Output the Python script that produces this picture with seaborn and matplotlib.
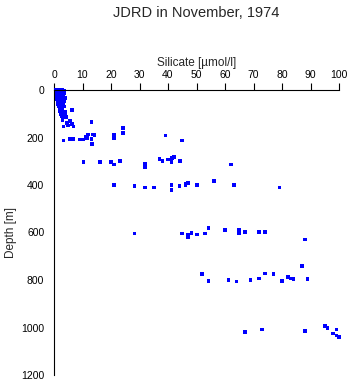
import matplotlib
matplotlib.use("Agg")
import matplotlib.pyplot as plt
import pandas as pd
import seaborn as sns

# silicate [umol/l] and depth [m]
silicate = [
    0.8, 1.5, 2.2, 3.0, 3.6, 1.0, 1.8, 2.8, 3.7, 0.9, 1.6, 2.5, 3.2, 1.1,
    2.0, 3.0, 3.8, 0.9, 1.7, 2.6, 3.5, 1.2, 2.2, 3.1, 1.5, 2.4, 3.3, 1.8,
    2.7, 3.6, 2.0, 3.0, 6.2, 1.9, 2.9, 3.8, 2.3, 3.4, 4.0, 2.6, 3.6, 4.1,
    5.6, 3.0, 6.2, 4.5, 6.8, 3.3, 5.0, 13.2,
    12.0, 13.6, 11.5, 13.2, 13.3, 3.3, 5.6, 6.8, 9.1, 10.3, 24.1, 24.1,
    11.1, 14.2, 21.0, 21.0, 21.0, 39.1, 45.0,
    10.3, 16.1, 20.0, 21.0, 23.2, 32.0, 32.0, 32.0, 37.0, 38.1, 40.1,
    41.3, 42.2, 41.2, 44.1, 62.1,
    21.0, 28.2, 32.0, 35.2, 41.2, 41.2, 44.0, 46.2, 47.1, 46.1, 50.1,
    56.1, 63.2, 79.1,
    28.2, 45.0, 47.1, 47.1, 48.3, 50.1, 53.1, 54.2, 60.1, 65.0, 65.0,
    67.1, 72.0, 74.1, 88.1,
    52.0, 54.2, 61.2, 64.0, 69.0, 72.0, 74.1, 77.0, 80.1, 82.0, 83.1,
    84.0, 87.1, 88.9,
    67.1, 73.1, 88.1, 95.1, 96.0, 99.1, 98.0, 99.1, 100.1,
]
depth = [
    0, 0, 0, 0, 5, 10, 10, 10, 15, 20, 20, 20, 20, 30,
    30, 30, 35, 40, 40, 40, 45, 50, 50, 50, 60, 60, 60, 70,
    70, 70, 80, 80, 83, 90, 90, 90, 100, 100, 105, 110, 115, 115,
    130, 125, 143, 140, 153, 153, 150, 136,
    188, 188, 202, 205, 226, 212, 206, 205, 209, 209, 161, 182,
    196, 190, 190, 197, 204, 191, 212,
    302, 303, 303, 313, 299, 309, 317, 325, 291, 300, 292,
    286, 282, 304, 300, 313,
    401, 405, 411, 410, 401, 422, 405, 394, 392, 399, 401,
    384, 401, 411,
    604, 604, 608, 620, 602, 608, 604, 582, 589, 587, 601,
    599, 599, 597, 629,
    775, 803, 801, 806, 801, 793, 772, 776, 803, 786, 793,
    797, 741, 797,
    1018, 1008, 1016, 994, 1003, 1008, 1025, 1033, 1041,
]
x_ticks = [0, 10, 20, 30, 40, 50, 60, 70, 80, 90, 100]
y_ticks = [0, 200, 400, 600, 800, 1000, 1200]

df = pd.DataFrame({"Silicate": silicate, "Depth": depth})

sns.set_style("white")
plt.rcParams["font.family"] = ["Liberation Sans", "DejaVu Sans"]

fig = plt.figure(figsize=(3.51, 3.84), dpi=100)
ax = fig.add_axes([54 / 351, 1 - 375 / 384, 285 / 351, 285 / 384])

sns.scatterplot(data=df, x="Silicate", y="Depth", ax=ax, marker="s", s=7,
                color="#0000ff", edgecolor="none", linewidth=0, clip_on=False)

ax.set_xlim(0, 100)
ax.set_ylim(1200, 0)
ax.set_xticks(x_ticks)
ax.set_yticks(y_ticks)
ax.xaxis.tick_top()
ax.xaxis.set_label_position("top")
ax.tick_params(axis="both", direction="out", length=5, width=0.8,
               labelsize=7.5, pad=2, colors="black")
for side in ["right", "bottom"]:
    ax.spines[side].set_visible(False)
for side in ["left", "top"]:
    ax.spines[side].set_color("black")
    ax.spines[side].set_linewidth(0.8)

ax.set_xlabel("Silicate [µmol/l]", fontsize=8.5, labelpad=3)
ax.set_ylabel("Depth [m]", fontsize=8.5, labelpad=3)
fig.text(196.5 / 351, 1 - 13 / 384, "JDRD in November, 1974",
         ha="center", va="center", fontsize=10.5)

fig.savefig("out.png", dpi=100)
